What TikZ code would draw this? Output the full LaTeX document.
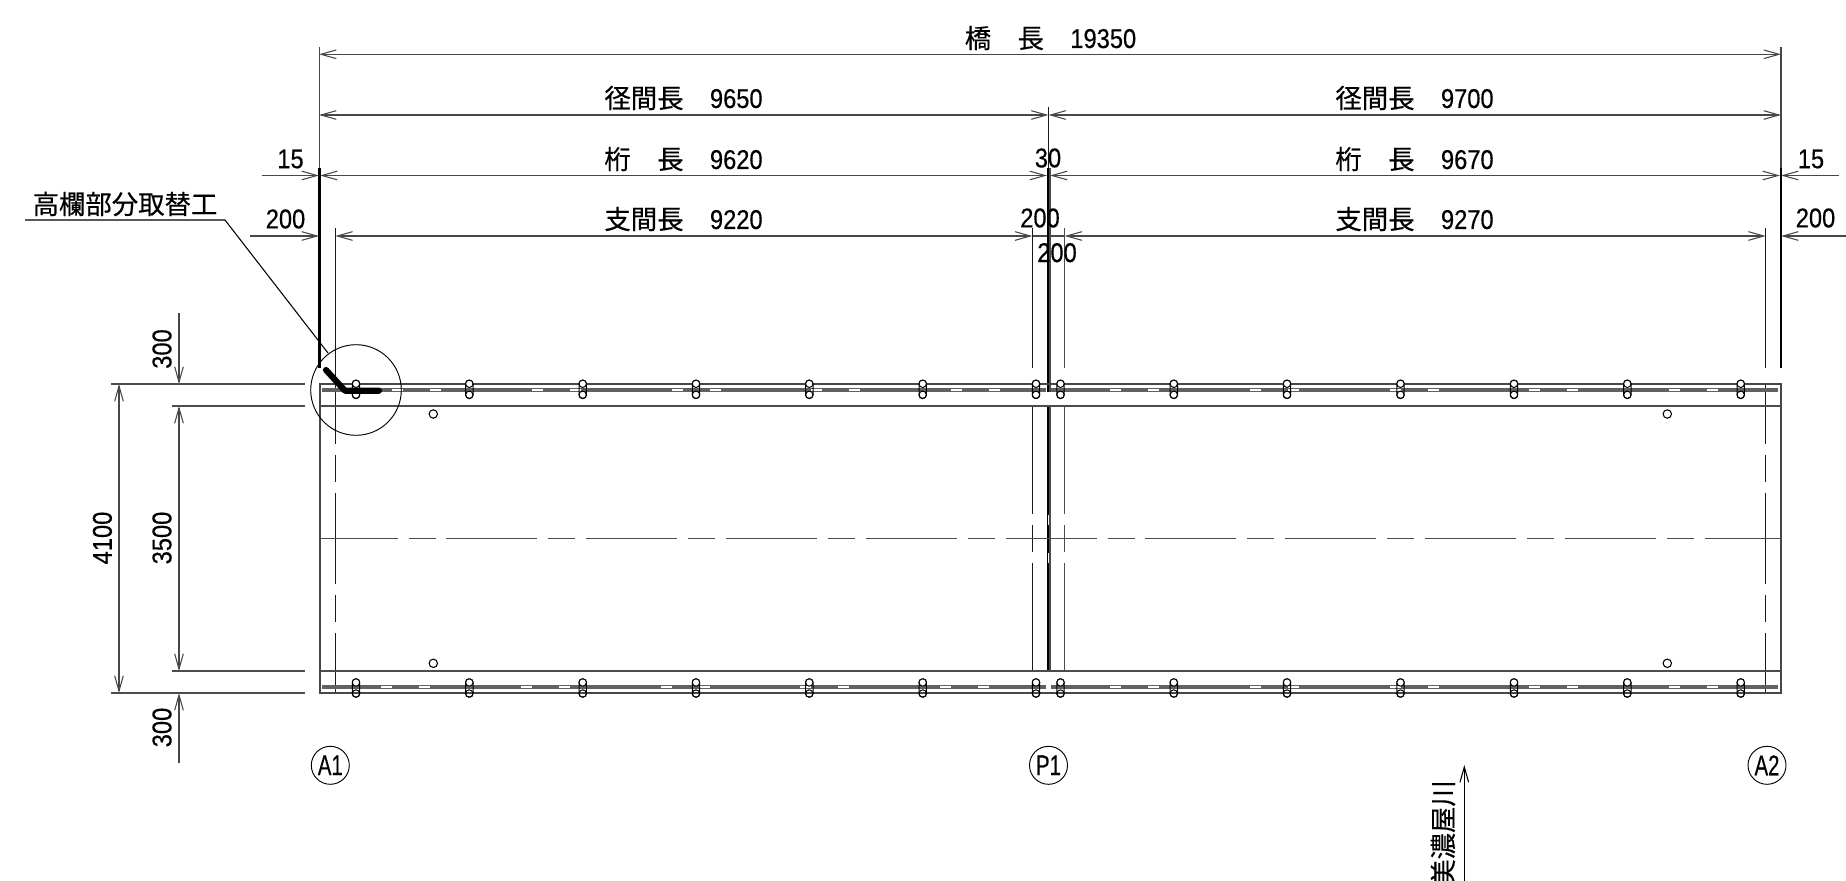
\documentclass[tikz,border=0pt]{standalone}
\usepackage{fontspec}
\setmainfont[FakeStretch=0.87,Scale=1.03,FakeBold=0.35]{Liberation Sans}
\newfontfamily\jpfont[FakeBold=0.35]{Noto Sans CJK JP}
\usetikzlibrary{arrows.meta}
\tikzset{
  >={Straight Barb[length=11.5pt,width=6.5pt]},
  dimline/.style={line width=0.8pt,color=black!72},
  extline/.style={line width=0.85pt,color=black!90},
  deckline/.style={line width=1.05pt,color=black!70},
  wallline/.style={line width=1.8pt,color=black!72},
  heavyline/.style={line width=1.8pt,color=black},
  railband/.style={line width=2.8pt,color=black!62},
  railgap/.style={white,line width=1.8pt,dash pattern={on 8.25pt off 20.25pt on 8.25pt off 68.1pt}},
  label/.style={inner sep=0pt,font=\fontsize{19.8}{24}\selectfont},
  support/.style={label,draw,circle,line width=0.7pt,minimum size=28.5pt},
}
\newcommand{\narrowtag}[1]{\scalebox{0.86}[1.05]{#1}}
\begin{document}
\begin{tikzpicture}[x=0.75pt,y=0.75pt,yscale=-1]
\path[use as bounding box,clip] (0,0) rectangle (1846,881);

%Dimension lines
\draw [dimline,<->] (319,54.3) -- (1781,54.3) ;
\draw [dimline,<->] (319,115) -- (1048.5,115) ;
\draw [dimline,<->] (1048.5,115) -- (1781,115) ;
\draw [dimline,->] (262,175.5) -- (319,175.5) ;
\draw [dimline,<->] (320,175.5) -- (1047,175.5) ;
\draw [dimline,<->] (1050,175.5) -- (1780,175.5) ;
\draw [dimline,<-] (1781,175.5) -- (1839,175.5) ;
\draw [dimline,->] (250,236) -- (319,236) ;
\draw [dimline,<->] (335.3,236) -- (1032.3,236) ;
\draw [dimline] (1032.3,236) -- (1064.7,236) ;
\draw [dimline,<->] (1064.7,236) -- (1765.7,236) ;
\draw [dimline,<-] (1781,236) -- (1846,236) ;

%Side dimensions
\draw [dimline,->] (179,313) -- (179,384) ;
\draw [dimline,<->] (119,384) -- (119,693) ;
\draw [dimline,<->] (179,406) -- (179,671) ;
\draw [dimline,->] (179,763) -- (179,693) ;
\draw [deckline] (111,384) -- (305,384) ;
\draw [deckline] (172,406) -- (305,406) ;
\draw [deckline] (172,671) -- (305,671) ;
\draw [deckline] (111,693) -- (305,693) ;

%Extension lines
\draw [dimline] (319.3,47) -- (319.3,168) ;
\draw [extline] (1048.7,107) -- (1048.7,168) ;
\draw [dimline] (1781,47) -- (1781,168) ;
\draw [heavyline] (319.3,168) -- (319.3,368) ;
\draw [heavyline] (1781,168) -- (1781,368) ;
\draw [heavyline] (1047.9,168) -- (1047.9,392) ;
\draw [deckline] (1050,168) -- (1050,392) ;
\draw [heavyline] (1047.9,407) -- (1047.9,670) ;
\draw [deckline] (1050,407) -- (1050,670) ;
\foreach \ya/\yb in {515/525,553/563}
  \draw [white,line width=0.8pt] (1048.5,\ya) -- (1048.5,\yb) ;
\draw [extline] (1032.3,228) -- (1032.3,368) ;
\draw [deckline] (1064.7,228) -- (1064.7,368) ;
\draw [extline] (335.3,228) -- (335.3,384) ;
\draw [extline] (1765.7,228) -- (1765.7,368) ;

%Center lines of the supports
\foreach \ya/\yb in {384/444,455/482,493/584,595/622,633/693} {
  \draw [extline] (335.3,\ya) -- (335.3,\yb) ;
  \draw [extline] (1765.7,\ya) -- (1765.7,\yb) ;
}
\foreach \ya/\yb in {407/514,525/552,563/670} {
  \draw [extline] (1032.3,\ya) -- (1032.3,\yb) ;
  \draw [deckline] (1064.7,\ya) -- (1064.7,\yb) ;
}

%Deck outline
\draw [wallline] (320,693) -- (320,384) -- (1781,384) -- (1781,693) -- cycle ;
\draw [deckline] (320,406) -- (1781,406) ;
\draw [deckline] (320,671) -- (1781,671) ;
\draw [deckline,dash pattern={on 68.25pt off 8.25pt on 20.25pt off 8.1pt},dash phase=10pt] (320,538.3) -- (1781,538.3) ;

%Rails
\foreach \ry/\xl in {390/392,686.7/381} {
  \draw [railband] (322,\ry) -- (1045.5,\ry) ;
  \draw [railband] (1051,\ry) -- (1778,\ry) ;
  \draw [railgap] (\xl,\ry) -- (\xl+608,\ry) ;
  \draw [railgap] (1110,\ry) -- (1718,\ry) ;
}

%Bolts
\foreach \bx in {356,469.3,582.7,696,809.3,922.7,1036,1060.5,1173.8,1287,1400.5,1514,1627.3,1740.7}
  \foreach \by in {389.3,688} {
    \draw [line width=0.75pt,rounded corners=2.6pt] (\bx-3.7,\by-9.2) rectangle (\bx+3.7,\by+9.2) ;
    \draw [line width=0.75pt,fill=white] (\bx,\by-5.5) circle [radius=3.7] ;
    \draw [line width=0.75pt] (\bx,\by+5.5) circle [radius=3.7] ;
  }

%Holes
\foreach \hx in {433.3,1667.3}
  \foreach \hy in {414,663.3}
    \draw [line width=0.8pt] (\hx,\hy) circle [radius=4.2] ;

%Replaced part
\draw [line width=0.7pt] (356,390) circle [radius=45.3] ;
\draw [line width=4.6pt,line cap=round,line join=round] (326,370) -- (345,390.7) -- (379,390.7) ;
\draw [line width=0.8pt] (25,220) -- (225,220) -- (328,353) ;

%River direction
\draw [line width=0.8pt,->] (1464.3,881) -- (1464.3,765) ;

% Text Node
\node [label] (bridge) at (1050.5,38) {\jpfont 橋　長　\normalfont 19350};
\node [label] (spanl) at (683.5,98) {\jpfont 径間長　\normalfont 9650};
\node [label] (spanr) at (1414.5,98) {\jpfont 径間長　\normalfont 9700};
\node [label] (girderl) at (683.5,159) {\jpfont 桁　長　\normalfont 9620};
\node [label] (girderr) at (1414.5,159) {\jpfont 桁　長　\normalfont 9670};
\node [label] (bearingl) at (683.5,219) {\jpfont 支間長　\normalfont 9220};
\node [label] (bearingr) at (1414.5,219) {\jpfont 支間長　\normalfont 9270};
\node [label] (endl) at (290.5,159) {15};
\node [label] (endr) at (1811,159) {15};
\node [label] (gap) at (1048,158) {30};
\node [label] (edgel) at (285.5,219) {200};
\node [label] (edger) at (1815.5,218) {200};
\node [label] (pierl) at (1040,218) {200};
\node [label] (pierr) at (1057,252.7) {200};
\node [label,rotate=90] (overt) at (162,349) {300};
\node [label,rotate=90] (overb) at (162,727.5) {300};
\node [label,rotate=90] (width) at (102.4,538) {4100};
\node [label,rotate=90] (road) at (162,538) {3500};
\node [label] (part) at (125,204) {\jpfont 高欄部分取替工};
\node [support] (a1) at (330.3,765.3) {\narrowtag{A1}};
\node [support] (p1) at (1048.5,765.3) {\narrowtag{P1}};
\node [support] (a2) at (1767,765.3) {\narrowtag{A2}};
\node [label,rotate=90] (river) at (1443,833) {\jpfont 美濃屋川};

\end{tikzpicture}
\end{document}
